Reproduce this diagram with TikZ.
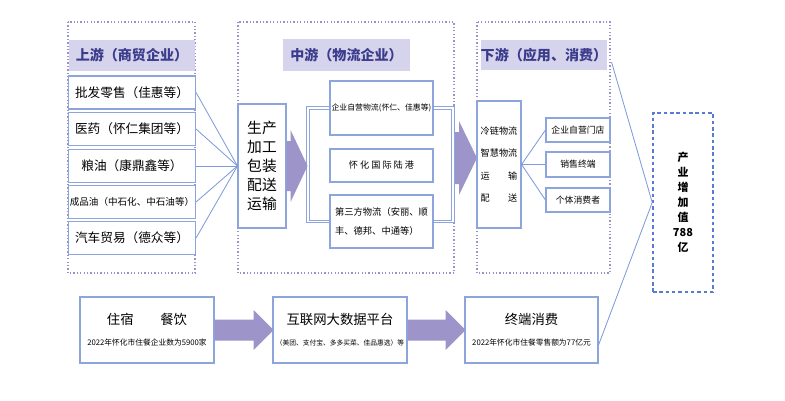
\documentclass[tikz,border=0pt]{standalone}
\usepackage{fontspec}
\setmainfont{Noto Sans CJK SC}
\definecolor{boxblue}{HTML}{8CA5DC}
\definecolor{linkblue}{HTML}{7F9BDB}
\definecolor{framepurple}{HTML}{9A90CC}
\definecolor{arrowpurple}{HTML}{9D95CA}
\definecolor{titlefill}{HTML}{D6D3EC}
\definecolor{titletext}{HTML}{3B3C8C}
\definecolor{valblue}{HTML}{5A7BD2}
\begin{document}
\begin{tikzpicture}[x=0.25mm, y=-0.25mm,
  frame/.style={draw=framepurple, line width=0.9pt, dash pattern=on 0.9pt off 1.5pt},
  titlebox/.style={fill=titlefill, text=titletext, inner sep=0pt, font=\fontsize{10}{12}\selectfont\bfseries},
  item/.style={draw=boxblue, line width=0.8pt, fill=white, inner sep=0pt, align=center},
  link/.style={draw=linkblue, line width=0.6pt},
  bracket/.style={draw=boxblue, line width=0.7pt, double=white, double distance=1.3pt},
  bigarrow/.style={fill=arrowpurple}]
\useasboundingbox (0,0) rectangle (785,400);

\draw[frame] (68,22) rectangle (195,273);
\draw[frame] (238,22) rectangle (454,273);
\draw[frame] (477,22) rectangle (610,273);

\node[titlebox, minimum width=31.5mm, minimum height=7.75mm] (up) at (132,55.5) {上游（商贸企业）};
\node[titlebox, minimum width=31.75mm, minimum height=8mm] (mid) at (346.5,55) {中游（物流企业）};
\node[titlebox, minimum width=31.5mm, minimum height=7.5mm] (down) at (544,55) {下游（应用、消费）};

\node[item, minimum width=31.75mm, minimum height=8.25mm, font=\fontsize{9}{11}\selectfont] (u1) at (132,92.5) {批发零售（佳惠等）};
\node[item, minimum width=31.75mm, minimum height=8.25mm, font=\fontsize{9}{11}\selectfont] (u2) at (132,129) {医药（怀仁集团等）};
\node[item, minimum width=31.75mm, minimum height=8.25mm, font=\fontsize{9}{11}\selectfont] (u3) at (132,166) {粮油（康鼎鑫等）};
\node[item, minimum width=31.75mm, minimum height=8.25mm, font=\fontsize{6.8}{9}\selectfont] (u4) at (132,202) {成品油（中石化、中石油等）};
\node[item, minimum width=31.75mm, minimum height=8.25mm, font=\fontsize{9}{11}\selectfont] (u5) at (132,238) {汽车贸易（德众等）};

\node[item, minimum width=12mm, minimum height=31mm, font=\fontsize{10.5}{13.5}\selectfont] (prod) at (262,166) {生产\\加工\\包装\\配送\\运输};
\foreach \n in {u1,u2,u3,u4,u5}
  \draw[link] (\n.east) -- (prod.west);

\node[item, minimum width=25.75mm, minimum height=13.5mm, font=\fontsize{5.6}{8}\selectfont] (m1) at (381.5,108) {企业自营物流(怀仁、佳惠等)};
\node[item, minimum width=25.75mm, minimum height=8.25mm, font=\fontsize{6.5}{8}\selectfont] (m2) at (381.5,165.5) {怀 化 国 际 陆 港};
\node[item, minimum width=25.75mm, minimum height=13.25mm, align=left, font=\fontsize{6.6}{13.5}\selectfont] (m3) at (381.5,221.5) {第三方物流（安丽、顺\\丰、德邦、中通等）};

\coordinate (bl) at (308,166);
\coordinate (br) at (453,158);
\draw[bracket] (m1.west) -| (bl) |- (m3.west);
\draw[bracket] (m1.east) -| (br) |- (m3.east);
\fill[bigarrow] (prod.east) ++(0,-25) -- ++(4,0) -- ++(0,-11) -- ++(17,36) -- ++(-17,36) -- ++(0,-11) -- ++(-4,0) -- cycle;
\fill[bigarrow] (br) ++(2,-26) -- ++(4,0) -- ++(0,-11) -- ++(18,37) -- ++(-18,37) -- ++(0,-11) -- ++(-4,0) -- cycle;

\node[item, minimum width=11mm, minimum height=31.75mm, font=\fontsize{6.5}{16}\selectfont] (cold) at (499,164.5) {冷链物流\\智慧物流\\运\hspace{2em}输\\配\hspace{2em}送};
\node[item, minimum width=16mm, minimum height=6mm, font=\fontsize{6.3}{8}\selectfont] (d1) at (578,130) {企业自营门店};
\node[item, minimum width=16mm, minimum height=6.25mm, font=\fontsize{6.3}{8}\selectfont] (d2) at (578,164.5) {销售终端};
\node[item, minimum width=16mm, minimum height=6mm, font=\fontsize{6.3}{8}\selectfont] (d3) at (578,200) {个体消费者};
\foreach \n in {d1,d2,d3}
  \draw[link] (cold.east) -- (\n.west);

\node[draw=valblue, line width=1.1pt, dash pattern=on 2.5pt off 2pt, minimum width=15mm, minimum height=44.75mm, align=center, font=\fontsize{7.8}{10.7}\selectfont\bfseries] (val) at (683,202.5) {产\\业\\增\\加\\值\\788\\亿};

\node[item, minimum width=33.5mm, minimum height=16.5mm, font=\fontsize{9.5}{15}\selectfont] (lodg) at (147,330) {住宿\quad\quad 餐饮\\{\fontsize{5.5}{7}\selectfont 2022年怀化市住餐企业数为5900家}};
\node[item, minimum width=33.5mm, minimum height=16.5mm, font=\fontsize{9.5}{15}\selectfont] (plat) at (340,330) {互联网大数据平台\\{\fontsize{4.8}{7}\selectfont （美团、支付宝、多多买菜、佳品惠选）等}};
\node[item, minimum width=33.25mm, minimum height=16.5mm, font=\fontsize{9.5}{15}\selectfont] (cons) at (531.5,330) {终端消费\\{\fontsize{5.5}{7}\selectfont 2022年怀化市住餐零售额为77亿元}};
\fill[bigarrow] (lodg.east) ++(0,-10.5) -- ++(39,0) -- ++(0,-9.5) -- ++(20,20) -- ++(-20,20) -- ++(0,-9.5) -- ++(-39,0) -- cycle;
\fill[bigarrow] (plat.east) ++(0,-10.5) -- ++(38,0) -- ++(0,-9.5) -- ++(20,20) -- ++(-20,20) -- ++(0,-9.5) -- ++(-38,0) -- cycle;

\draw[link] ([xshift=1mm,yshift=-1.75mm]down.east) -- (val.west) -- ([yshift=-3.75mm]cons.east);

\end{tikzpicture}
\end{document}
